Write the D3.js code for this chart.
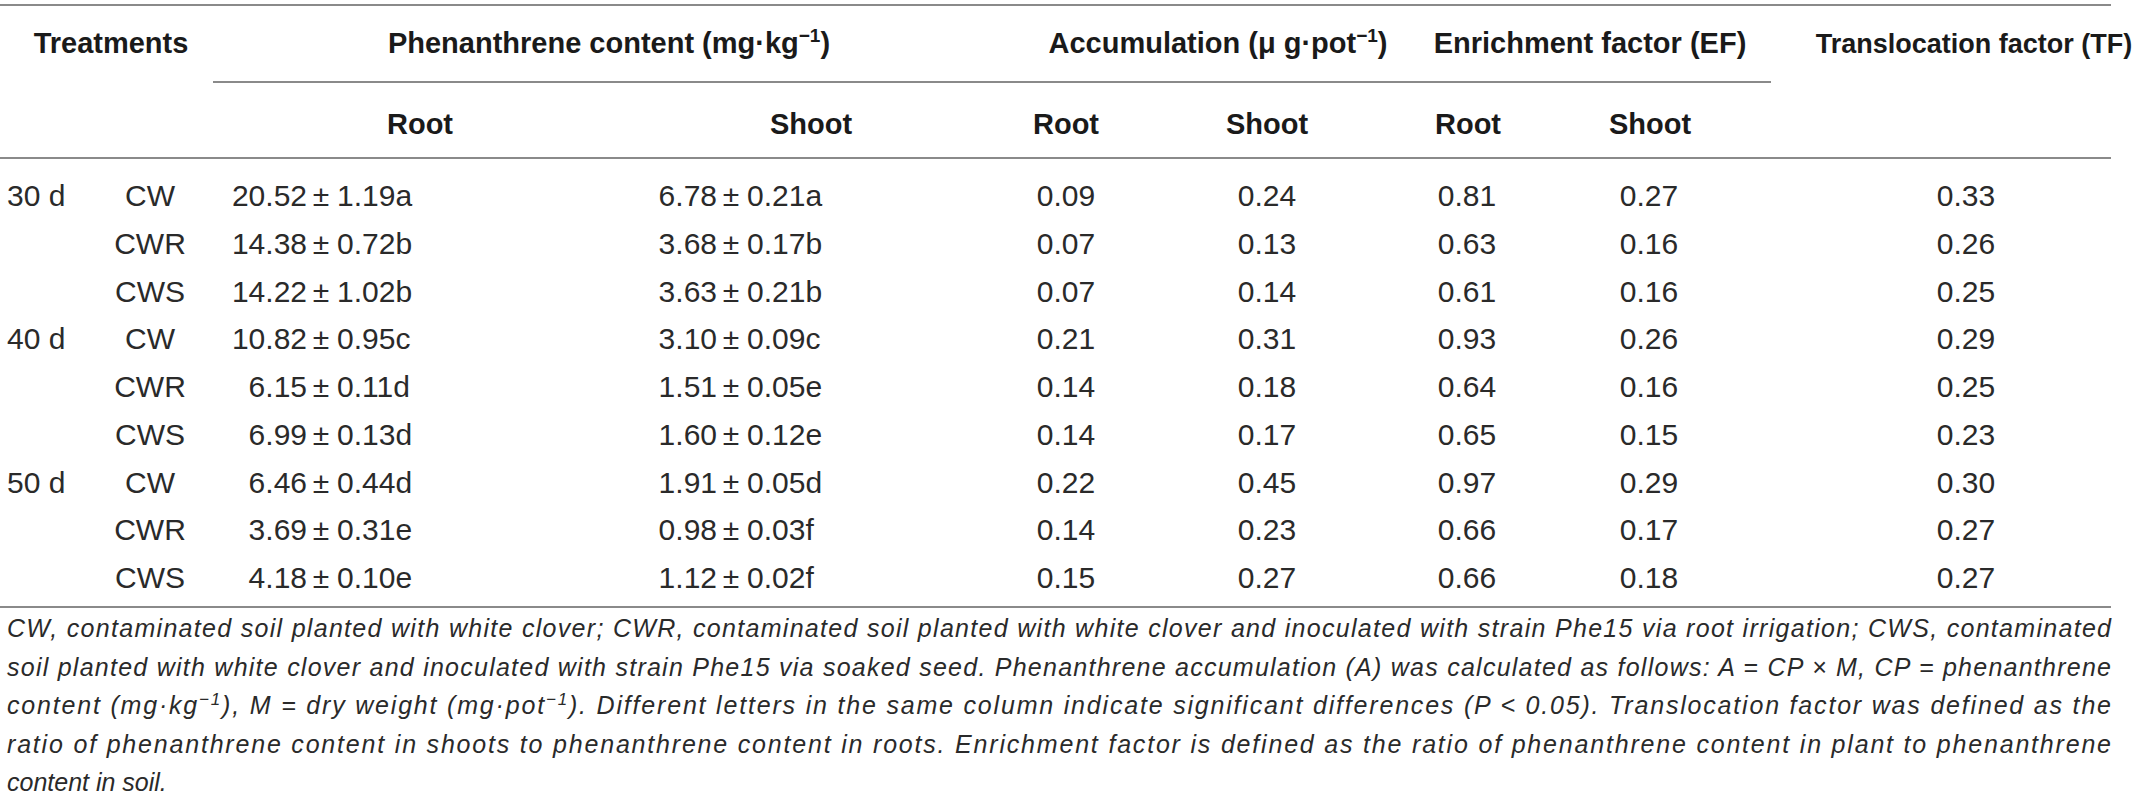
<!DOCTYPE html>
<html><head><meta charset="utf-8">
<script src="https://cdn.jsdelivr.net/npm/d3@7"></script>
<style>
html,body{margin:0;padding:0;background:#fff;}
svg{display:block;}
</style></head>
<body>
<script>
// ---- data ----
const times = ["30 d", "", "", "40 d", "", "", "50 d", "", ""];
const treatments = ["CW", "CWR", "CWS", "CW", "CWR", "CWS", "CW", "CWR", "CWS"];
const rootMean = [20.52, 14.38, 14.22, 10.82, 6.15, 6.99, 6.46, 3.69, 4.18];
const rootSD = [1.19, 0.72, 1.02, 0.95, 0.11, 0.13, 0.44, 0.31, 0.10];
const rootLetter = ["a", "b", "b", "c", "d", "d", "d", "e", "e"];
const shootMean = [6.78, 3.68, 3.63, 3.10, 1.51, 1.60, 1.91, 0.98, 1.12];
const shootSD = [0.21, 0.17, 0.21, 0.09, 0.05, 0.12, 0.05, 0.03, 0.02];
const shootLetter = ["a", "b", "b", "c", "e", "e", "d", "f", "f"];
const accumRoot = [0.09, 0.07, 0.07, 0.21, 0.14, 0.14, 0.22, 0.14, 0.15];
const accumShoot = [0.24, 0.13, 0.14, 0.31, 0.18, 0.17, 0.45, 0.23, 0.27];
const efRoot = [0.81, 0.63, 0.61, 0.93, 0.64, 0.65, 0.97, 0.66, 0.66];
const efShoot = [0.27, 0.16, 0.16, 0.26, 0.16, 0.15, 0.29, 0.17, 0.18];
const tf = [0.33, 0.26, 0.25, 0.29, 0.25, 0.23, 0.30, 0.27, 0.27];
const subHeaders = ["Root", "Shoot", "Root", "Shoot", "Root", "Shoot"];
const footnote = [
  [["CW, contaminated soil planted with white clover; CWR, contaminated soil planted with white clover and inoculated with strain Phe15 via root irrigation; CWS, contaminated", 0]],
  [["soil planted with white clover and inoculated with strain Phe15 via soaked seed. Phenanthrene accumulation (A) was calculated as follows: A = CP \u00d7 M, CP = phenanthrene", 0]],
  [["content (mg\u00b7kg", 0], ["\u22121", 1], ["), M = dry weight (mg\u00b7pot", 0], ["\u22121", 1], ["). Different letters in the same column indicate significant differences (P < 0.05). Translocation factor was defined as the", 0]],
  [["ratio of phenanthrene content in shoots to phenanthrene content in roots. Enrichment factor is defined as the ratio of phenanthrene content in plant to phenanthrene", 0]],
  [["content in soil.", 0]]
];

// ---- layout ----
const W = 2141, H = 801;
const svg = d3.select("body").append("svg").attr("width", W).attr("height", H);
const FONT = "'Liberation Sans', Arial, Helvetica, sans-serif";
const ink = "#2a2a2a";
const lineColor = "#8a8a8a";
const fmt = d3.format(".2f");

const y = d3.scaleLinear().domain([0, 8]).range([206, 588]);
const x = d3.scaleOrdinal()
  .domain(["time", "treat", "rootPM", "shootPM", "accR", "accS", "efR", "efS", "tf"])
  .range([7, 150, 321, 731, 1066, 1267, 1467, 1649, 1966]);

function hline(x1, x2, yy) {
  svg.append("line").attr("x1", x1).attr("x2", x2).attr("y1", yy).attr("y2", yy)
    .attr("stroke", lineColor).attr("stroke-width", 2);
}
hline(0, 2111, 5);
hline(213, 1771, 82);
hline(0, 2111, 158);
hline(0, 2111, 607);

function header(parts, xx, yy, anchor, size) {
  const t = svg.append("text").attr("x", xx).attr("y", yy)
    .attr("text-anchor", anchor || "middle")
    .attr("font-family", FONT).attr("font-weight", "bold").attr("font-size", size || 29)
    .attr("fill", "#1a1a1a");
  parts.forEach(p => {
    const s = t.append("tspan").text(p[0]);
    if (p[1]) s.attr("dy", -11).attr("font-size", 19);
    else if (p[2]) s.attr("dy", 11);
  });
  return t;
}
header([["Treatments"]], 111, 53);
header([["Phenanthrene content (mg\u00b7kg"], ["\u22121", 1], [")", 0, 1]], 609, 53);
header([["Accumulation (\u03bc g\u00b7pot"], ["\u22121", 1], [")", 0, 1]], 1218, 53);
header([["Enrichment factor (EF)"]], 1590, 53);
header([["Translocation factor (TF)"]], 1974, 53, "middle", 27);

const subX = [420, 811, 1066, 1267, 1468, 1650];
svg.selectAll("text.sub").data(subHeaders).enter().append("text")
  .attr("class", "sub")
  .attr("x", (d, i) => subX[i]).attr("y", 134)
  .attr("text-anchor", "middle")
  .attr("font-family", FONT).attr("font-weight", "bold").attr("font-size", 29)
  .attr("fill", "#1a1a1a")
  .text(d => d);

function bodyText(sel) {
  return sel.attr("font-family", FONT).attr("font-size", 30).attr("fill", ink);
}
const rows = d3.range(9);
bodyText(svg.selectAll("text.time").data(rows).enter().append("text").attr("class", "time"))
  .attr("x", x("time")).attr("y", i => y(i)).text(i => times[i]);
bodyText(svg.selectAll("text.treat").data(rows).enter().append("text").attr("class", "treat"))
  .attr("x", x("treat")).attr("y", i => y(i)).attr("text-anchor", "middle").text(i => treatments[i]);

function pm(key, mean, sd, letter) {
  const cx = x(key);
  bodyText(svg.selectAll("text.l" + key).data(rows).enter().append("text").attr("class", "l" + key))
    .attr("x", cx - 14).attr("y", i => y(i)).attr("text-anchor", "end").text(i => fmt(mean[i]));
  bodyText(svg.selectAll("text.p" + key).data(rows).enter().append("text").attr("class", "p" + key))
    .attr("x", cx).attr("y", i => y(i)).attr("text-anchor", "middle").text("\u00b1");
  bodyText(svg.selectAll("text.r" + key).data(rows).enter().append("text").attr("class", "r" + key))
    .attr("x", cx + 16).attr("y", i => y(i)).attr("text-anchor", "start").text(i => fmt(sd[i]) + letter[i]);
}
pm("rootPM", rootMean, rootSD, rootLetter);
pm("shootPM", shootMean, shootSD, shootLetter);

function col(key, vals) {
  bodyText(svg.selectAll("text.c" + key).data(rows).enter().append("text").attr("class", "c" + key))
    .attr("x", x(key)).attr("y", i => y(i)).attr("text-anchor", "middle").text(i => fmt(vals[i]));
}
col("accR", accumRoot);
col("accS", accumShoot);
col("efR", efRoot);
col("efS", efShoot);
col("tf", tf);

// footnote
const fy = d3.scaleLinear().domain([0, 4]).range([637, 791]);
footnote.forEach((parts, li) => {
  const t = svg.append("text").attr("x", 7).attr("y", fy(li))
    .attr("font-family", FONT).attr("font-style", "italic").attr("font-size", 25)
    .attr("fill", ink);
  parts.forEach((p, k) => {
    const s = t.append("tspan").text(p[0]);
    if (p[1]) s.attr("dy", -9).attr("font-size", 17);
    else if (k > 0 && parts[k - 1][1]) s.attr("dy", 9);
  });
  if (li < footnote.length - 1) t.attr("textLength", 2104).attr("lengthAdjust", "spacing");
});
</script>
</body></html>
